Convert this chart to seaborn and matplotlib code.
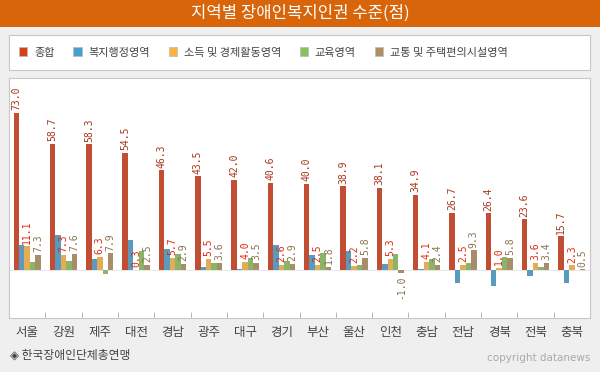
import numpy as np
import pandas as pd
import seaborn as sns
import matplotlib.pyplot as plt
from matplotlib.patches import Rectangle, Patch

regions = ['서울', '강원', '제주', '대전', '경남', '광주', '대구', '경기',
           '부산', '울산', '인천', '충남', '전남', '경북', '전북', '충북']
series = ['종합', '복지행정영역', '소득 및 경제활동영역', '교육영역', '교통 및 주택편의시설영역']

total = [73.0, 58.7, 58.3, 54.5, 46.3, 43.5, 42.0, 40.6, 40.0, 38.9, 38.1, 34.9, 26.7, 26.4, 23.6, 15.7]
welfare = [11.7, 16.5, 5.2, 14.0, 9.8, 1.5, 0.6, 11.7, 7.0, 8.9, 2.9, 0.6, -5.8, -7.2, -2.5, -5.8]
income = [11.1, 7.3, 6.3, 0.3, 5.7, 5.5, 4.0, 2.6, 2.5, 2.2, 5.3, 4.1, 2.5, 1.0, 3.6, 2.3]
education = [3.9, 4.3, -1.6, 8.9, 7.6, 3.3, 5.8, 4.3, 8.0, 2.4, 7.5, 5.2, 3.3, 6.1, 1.5, 0.2]
transport = [7.3, 7.6, 7.9, 2.5, 2.9, 3.6, 3.5, 2.9, 1.8, 5.8, -1.0, 2.4, 9.3, 5.8, 3.4, 0.5]

colors = ['#d9401a', '#48a0d0', '#fbb33e', '#88c25a', '#b08e62']
label_colors = {0: '#a8351a', 2: '#e8280c', 4: '#8a7350'}

df = pd.DataFrame({
    'region': regions * 5,
    'series': np.repeat(series, len(regions)),
    'value': total + welfare + income + education + transport,
})

plt.rcParams['font.family'] = ['Noto Sans CJK KR', 'DejaVu Sans']

fig = plt.figure(figsize=(6, 3.72), dpi=100)
fig.patch.set_facecolor('#efefef')

# title bar
fig.patches.append(Rectangle((0, 1 - 27 / 372), 1, 27 / 372, transform=fig.transFigure,
                             facecolor='#d9650a', edgecolor='none'))
fig.text(0.5, 1 - 13.5 / 372, '지역별 장애인복지인권 수준(점)', color='white',
         fontsize=12, ha='center', va='center')

# legend box
fig.patches.append(Rectangle((9 / 600, 1 - 70 / 372), 581 / 600, 35 / 372, transform=fig.transFigure,
                             facecolor='white', edgecolor='#c8c8c8', linewidth=0.8))
handles = [Patch(facecolor=c, edgecolor='#bbbbbb', linewidth=0.5) for c in colors]
fig.legend(handles, series, loc='center left', bbox_to_anchor=(9 / 600, 1 - 52.5 / 372),
           ncol=5, frameon=False, fontsize=8, handlelength=0.75, handleheight=0.8,
           handletextpad=0.6, columnspacing=1.7, labelcolor='#444444')

ax = fig.add_axes([9 / 600, 1 - 318 / 372, 581 / 600, 240 / 372])
sns.barplot(data=df, x='region', y='value', hue='series', palette=colors,
            width=0.75, gap=0, legend=False, ax=ax)
ax.set_facecolor('white')
ax.set_ylim(-22, 89)
ax.set_xlim(-0.5, len(regions) - 0.5)

for i, cont in enumerate(ax.containers):
    if i in label_colors:
        ax.bar_label(cont, fmt='%.1f', rotation=90, padding=2, fontsize=7,
                     color=label_colors[i], family='DejaVu Sans Mono')

ax.axhline(0, color='#dddddd', linewidth=0.5, zorder=0)
ax.set_xlabel('')
ax.set_ylabel('')
ax.set_yticks([])
ax.tick_params(axis='x', length=0, labelsize=9, labelcolor='#444444', pad=6)
ax.set_xticks(np.arange(0.5, len(regions) - 1, 1), minor=True)
ax.tick_params(axis='x', which='minor', direction='in', length=4, color='#aaaaaa')
for s in ax.spines.values():
    s.set_color('#c8c8c8')
    s.set_linewidth(0.8)

fig.text(10 / 600, 1 - 355 / 372, '◈ 한국장애인단체총연맹', fontsize=8.5, color='#444444',
         va='center', ha='left')
fig.text(590 / 600, 1 - 358 / 372, 'copyright datanews', fontsize=7.5, color='#aaaaaa',
         va='center', ha='right', family='DejaVu Sans')

fig.savefig('out.png', dpi=100, facecolor=fig.get_facecolor())
